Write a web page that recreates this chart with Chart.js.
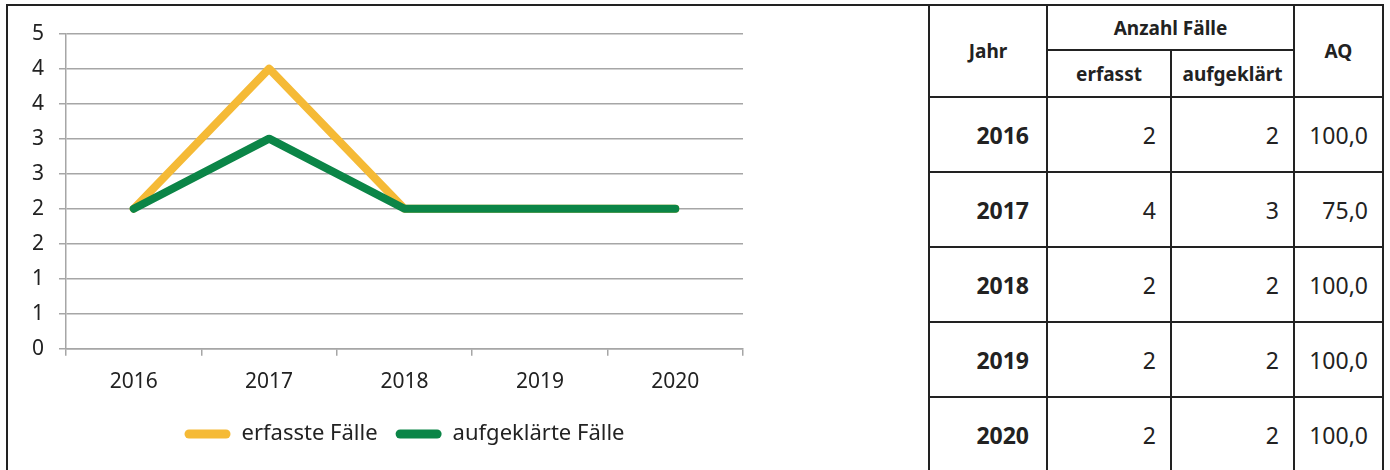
<!DOCTYPE html>
<html lang="de">
<head>
<meta charset="utf-8">
<script src="https://cdn.jsdelivr.net/npm/chart.js@4/dist/chart.umd.min.js"></script>
<style>
  html, body { margin: 0; padding: 0; background: #fff; }
  body { width: 1390px; height: 470px; position: relative; overflow: hidden; font-family: "Noto Sans", sans-serif; color: #222; }
  #frame { position: absolute; left: 6px; top: 4px; width: 923px; height: 480px; border-left: 2px solid #222; border-top: 2px solid #222; }
  #wrap { position: absolute; left: 8px; top: 6px; width: 920px; height: 464px; }
  table { position: absolute; left: 928px; top: 4px; border-collapse: collapse; table-layout: fixed; }
  td, th { border: 2px solid #222; padding: 0; }
  th { font-weight: 700; font-size: 19px; text-align: center; }
  td { font-size: 23px; text-align: right; padding-right: 14px; height: 73px; }
  td.y { font-weight: 700; padding-right: 17px; }
</style>
</head>
<body>
<div id="frame"></div>
<div id="wrap"><canvas id="c"></canvas></div>
<table>
  <colgroup><col style="width:118px"><col style="width:124px"><col style="width:123px"><col style="width:89px"></colgroup>
  <thead>
    <tr style="height:45px"><th rowspan="2">Jahr</th><th colspan="2">Anzahl Fälle</th><th rowspan="2">AQ</th></tr>
    <tr style="height:47px"><th>erfasst</th><th>aufgeklärt</th></tr>
  </thead>
  <tbody id="rows"></tbody>
</table>
<script>
const years = ['2016', '2017', '2018', '2019', '2020'];
const erfasst = [2, 4, 2, 2, 2];
const aufgeklaert = [2, 3, 2, 2, 2];
const aq = ['100,0', '75,0', '100,0', '100,0', '100,0'];

const tbody = document.getElementById('rows');
years.forEach((y, i) => {
  const tr = document.createElement('tr');
  tr.innerHTML = '<td class="y">' + y + '</td><td>' + erfasst[i] + '</td><td>' + aufgeklaert[i] + '</td><td>' + aq[i] + '</td>';
  tbody.appendChild(tr);
});

const yellow = '#F5BA36';
const green = '#0B8547';
const gridColor = '#a6a6a6';
const font = { family: '"Noto Sans", sans-serif', size: 21 };

new Chart(document.getElementById('c'), {
  type: 'line',
  data: {
    labels: years,
    datasets: [
      {
        label: 'erfasste Fälle',
        data: erfasst,
        borderColor: yellow,
        backgroundColor: yellow,
        borderWidth: 8,
        borderCapStyle: 'round',
        borderJoinStyle: 'round',
        pointRadius: 0,
        tension: 0,
        order: 1
      },
      {
        label: 'aufgeklärte Fälle',
        data: aufgeklaert,
        borderColor: green,
        backgroundColor: green,
        borderWidth: 8,
        borderCapStyle: 'round',
        borderJoinStyle: 'round',
        pointRadius: 0,
        tension: 0,
        order: 0
      }
    ]
  },
  options: {
    responsive: true,
    maintainAspectRatio: false,
    animation: false,
    layout: { padding: { left: 9, right: 185, top: 14, bottom: 15 } },
    plugins: {
      tooltip: { enabled: false },
      legend: {
        position: 'bottom',
        fullSize: false,
        labels: {
          color: '#222',
          font: { family: '"Noto Sans", sans-serif', size: 22 },
          boxWidth: 46,
          boxHeight: 9,
          useBorderRadius: true,
          borderRadius: 4.5,
          padding: 18,
          sort: (a, b) => a.datasetIndex - b.datasetIndex,
          generateLabels: chart =>
            Chart.defaults.plugins.legend.labels.generateLabels(chart).map(l => ({ ...l, lineWidth: 0 }))
        }
      }
    },
    scales: {
      x: {
        offset: true,
        grid: { offset: true, drawOnChartArea: false, color: gridColor, lineWidth: 1.5, tickLength: 7 },
        border: { color: gridColor, width: 1.5 },
        ticks: { color: '#222', font: font, padding: 14 },
        afterFit: scale => { scale.height -= 4; }
      },
      y: {
        min: 0,
        max: 4.5,
        grid: { color: gridColor, lineWidth: 1.5, tickLength: 7 },
        border: { color: gridColor, width: 1.5 },
        ticks: { stepSize: 0.5, color: '#222', font: font, padding: 15, callback: v => Math.round(v) }
      }
    }
  }
});
</script>
</body>
</html>
